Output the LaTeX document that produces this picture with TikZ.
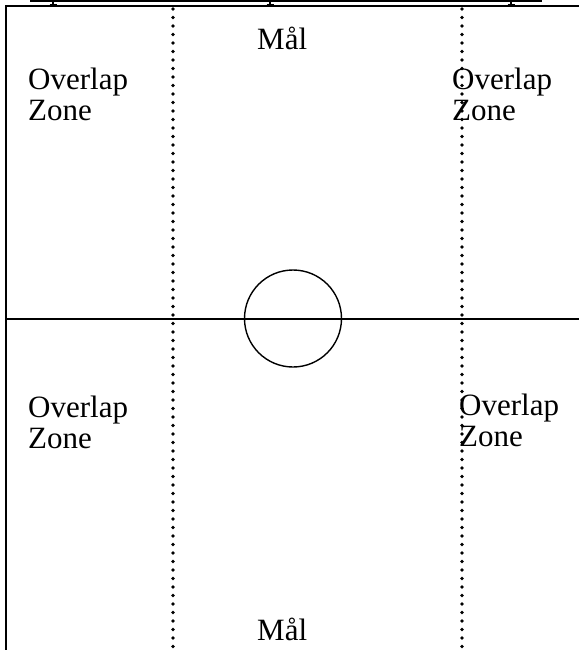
\documentclass[tikz,border=0pt]{standalone}
\usepackage{fontspec}
\setmainfont{Liberation Serif}
\begin{document}
\begin{tikzpicture}[x=1pt,y=-1pt,
  field/.style={line width=1.4pt,line cap=rect},
  zoneline/.style={line width=3.6pt,line cap=round,dash pattern=on 0pt off 8.5pt},
  lbl/.style={inner sep=0pt,anchor=base west,align=left,font=\fontsize{31}{31}\selectfont},
  tick/.style={line width=1.6pt}]
\useasboundingbox (0,0) rectangle (578,650);
% clipped underline at top
\draw[line width=2.2pt] (30,1.3) -- (542,1.3);
\foreach \tx in {53,270,511}{
  \draw[tick] (\tx,0) -- (\tx,5);
  \draw[line width=1.2pt] (\tx-3.5,5) -- (\tx+3.5,5);
}
% field
\draw[field] (578,6) -- (6,6) -- (6,652);
\draw[field] (6,319) -- (580,319);
\node[draw,circle,line width=1.4pt,minimum size=97pt,inner sep=0pt] (c) at (293,318.5) {};
\draw[zoneline] (173,9) -- (173,652);
\draw[zoneline] (462,9) -- (462,652);
% labels (anchor = baseline of the last line)
\node[lbl] (gt) at (257,50) {Mål};
\node[lbl] (gb) at (257,640) {Mål};
\node[lbl] (tl) at (28,121) {Overlap\\Zone};
\node[lbl] (tr) at (452,121) {Overlap\\Zone};
\node[lbl] (bl) at (28,448) {Overlap\\Zone};
\node[lbl] (br) at (459,446) {Overlap\\Zone};
\end{tikzpicture}
\end{document}
